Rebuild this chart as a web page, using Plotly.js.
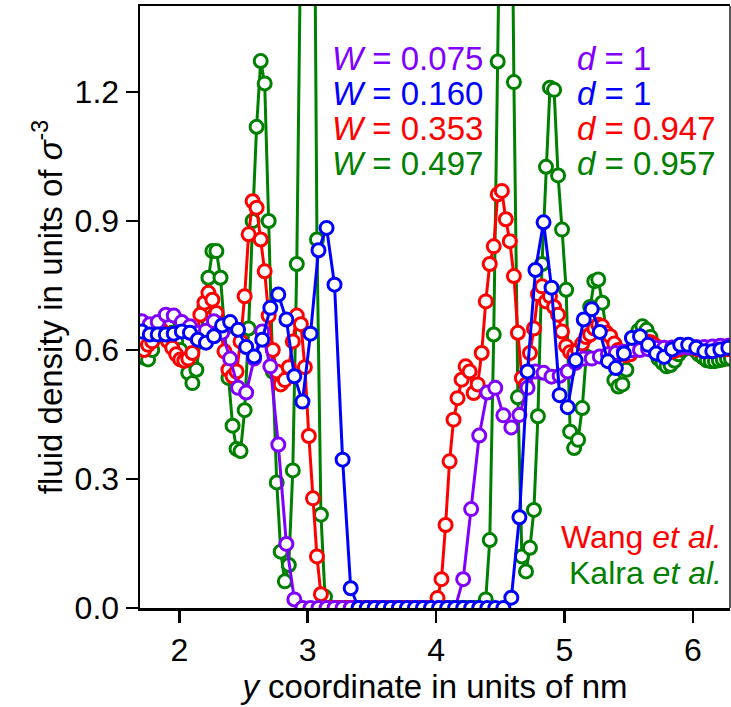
<!DOCTYPE html>
<html><head><meta charset="utf-8">
<script src="https://cdn.plot.ly/plotly-3.0.1.min.js"></script>
<style>html,body{margin:0;padding:0;background:#fff}#c{width:731px;height:707px}</style>
</head><body><div id="c"></div>
<script>
// coarse grid (this work, W=0.075 and W=0.160)
const xCoarse = [1.707,1.770,1.832,1.895,1.957,2.020,2.083,2.145,2.208,2.270,2.333,2.396,2.458,2.521,2.583,2.646,2.709,2.771,2.834,2.896,2.959,3.022,3.084,3.147,3.209,3.272,3.335,3.397,3.460,3.522,3.585,3.648,3.710,3.773,3.835,3.898,3.960,4.023,4.086,4.148,4.211,4.273,4.336,4.399,4.461,4.524,4.586,4.649,4.712,4.774,4.837,4.899,4.962,5.025,5.087,5.150,5.212,5.275,5.338,5.400,5.463,5.525,5.588,5.651,5.713,5.776,5.838,5.901,5.963,6.026,6.089,6.151,6.214,6.276];
const yPurple = [0.667,0.660,0.665,0.682,0.680,0.665,0.655,0.640,0.645,0.667,0.640,0.580,0.512,0.501,0.580,0.643,0.562,0.380,0.149,0.020,0,0,0,0,0,0,0,0,0,0,0,0,0,0,0,0,0,0,0,0,0.067,0.230,0.401,0.501,0.512,0.448,0.420,0.449,0.512,0.550,0.547,0.538,0.540,0.550,0.570,0.580,0.580,0.585,0.590,0.593,0.596,0.600,0.600,0.602,0.605,0.605,0.606,0.606,0.606,0.607,0.607,0.608,0.610,0.610];
const yBlue = [0.643,0.636,0.636,0.636,0.638,0.643,0.640,0.624,0.617,0.632,0.657,0.665,0.647,0.607,0.585,0.624,0.698,0.729,0.671,0.539,0.480,0.638,0.832,0.884,0.752,0.345,0.046,0,0,0,0,0,0,0,0,0,0,0,0,0,0,0,0,0,0,0,0.024,0.211,0.550,0.786,0.897,0.745,0.495,0.467,0.576,0.671,0.695,0.642,0.574,0.558,0.592,0.628,0.632,0.612,0.592,0.584,0.601,0.612,0.612,0.605,0.597,0.597,0.601,0.605];
// fine grid (Wang et al. and Kalra et al.)
const xFine = [1.726,1.757,1.789,1.820,1.851,1.883,1.914,1.945,1.976,2.008,2.039,2.070,2.102,2.133,2.164,2.196,2.227,2.258,2.289,2.321,2.352,2.383,2.415,2.446,2.477,2.509,2.540,2.571,2.602,2.634,2.665,2.696,2.728,2.759,2.790,2.822,2.853,2.884,2.915,2.947,2.978,3.009,3.041,3.072,3.103,3.135,3.166,3.197,3.228,3.260,3.291,3.322,3.354,3.385,3.416,3.448,3.479,3.510,3.541,3.573,3.604,3.635,3.667,3.698,3.729,3.761,3.792,3.823,3.854,3.886,3.917,3.948,3.980,4.011,4.042,4.074,4.105,4.136,4.167,4.199,4.230,4.261,4.293,4.324,4.355,4.387,4.418,4.449,4.480,4.512,4.543,4.574,4.606,4.637,4.668,4.700,4.731,4.762,4.793,4.825,4.856,4.887,4.919,4.950,4.981,5.013,5.044,5.075,5.106,5.138,5.169,5.200,5.232,5.263,5.294,5.326,5.357,5.388,5.419,5.451,5.482,5.513,5.545,5.576,5.607,5.639,5.670,5.701,5.732,5.764,5.795,5.826,5.858,5.889,5.920,5.952,5.983,6.014,6.045,6.077,6.108,6.139,6.171,6.202,6.233,6.265,6.296];
const yRed = [0.600,0.612,0.620,0.640,0.650,0.640,0.620,0.605,0.590,0.578,0.575,0.580,0.593,0.630,0.682,0.710,0.733,0.717,0.686,0.640,0.597,0.554,0.539,0.550,0.620,0.725,0.869,0.946,0.931,0.857,0.783,0.680,0.600,0.550,0.520,0.530,0.560,0.620,0.680,0.660,0.560,0.400,0.255,0.120,0.032,0,0,0,0,0,0,0,0,0,0,0,0,0,0,0,0,0,0,0,0,0,0,0,0,0,0,0,0,0.023,0.067,0.193,0.341,0.438,0.488,0.531,0.562,0.550,0.500,0.520,0.593,0.713,0.800,0.841,0.962,0.970,0.904,0.853,0.772,0.640,0.535,0.520,0.593,0.650,0.730,0.748,0.713,0.725,0.700,0.682,0.643,0.609,0.595,0.590,0.600,0.615,0.630,0.636,0.650,0.659,0.655,0.640,0.632,0.615,0.600,0.590,0.588,0.590,0.600,0.608,0.615,0.620,0.618,0.612,0.605,0.598,0.595,0.595,0.598,0.602,0.606,0.608,0.607,0.604,0.601,0.599,0.598,0.598,0.600,0.601,0.602,0.602,0.602];
const yGreen = [0.582,0.578,0.600,0.630,0.650,0.660,0.655,0.640,0.620,0.600,0.575,0.547,0.523,0.554,0.620,0.700,0.768,0.830,0.830,0.768,0.650,0.535,0.424,0.370,0.365,0.460,0.650,0.900,1.119,1.272,1.220,0.900,0.550,0.292,0.131,0.062,0.100,0.320,0.800,1.600,2.400,2.600,2.200,0.857,0.217,0.026,0,0,0,0,0,0,0,0,0,0,0,0,0,0,0,0,0,0,0,0,0,0,0,0,0,0,0,0,0,0,0,0,0,0,0,0,0,0,0,0.020,0.158,0.636,1.271,2.000,2.600,2.200,1.223,0.490,0.120,0.085,0.140,0.228,0.446,0.800,1.026,1.210,1.205,1.006,0.880,0.740,0.410,0.372,0.391,0.465,0.585,0.700,0.760,0.764,0.710,0.640,0.580,0.530,0.515,0.520,0.554,0.600,0.630,0.645,0.655,0.647,0.630,0.600,0.580,0.570,0.562,0.565,0.575,0.590,0.600,0.605,0.605,0.600,0.590,0.583,0.576,0.574,0.574,0.576,0.578,0.580,0.580];

const FONT = 'Liberation Sans, Arial, sans-serif';
function tr(x, y, color) {
  return {x: x, y: y, type: 'scatter', mode: 'lines+markers',
    line: {color: color, width: 3},
    marker: {symbol: 'circle', size: 13, color: '#ffffff', line: {color: color, width: 3}},
    hoverinfo: 'skip'};
}
const data = [
  tr(xFine, yGreen, '#008000'),
  tr(xFine, yRed, '#ff0000'),
  tr(xCoarse, yPurple, '#8000ff'),
  tr(xCoarse, yBlue, '#0000ff')
];
function ann(text, px, py, color, anchor, size) {
  return {text: text, xref: 'paper', yref: 'paper', x: (px - 140) / 590, y: (608 - py) / 602,
    xanchor: anchor || 'left', yanchor: 'middle', showarrow: false,
    font: {family: FONT, size: size || 33, color: color}};
}
const layout = {
  width: 731, height: 707,
  margin: {l: 140, r: 1, t: 6, b: 99},
  paper_bgcolor: '#fff', plot_bgcolor: '#fff',
  showlegend: false,
  font: {family: FONT, color: '#000'},
  xaxis: {range: [1.694, 6.289], showgrid: false, zeroline: false,
    showline: true, linecolor: '#000', linewidth: 2.5, mirror: true,
    ticks: 'outside', ticklen: 12, tickwidth: 2.5, tickcolor: '#000',
    tickvals: [2, 3, 4, 5, 6], tickfont: {family: FONT, size: 32},
    title: {text: '<i>y</i> coordinate in units of nm', font: {family: FONT, size: 33}, standoff: 6}},
  yaxis: {range: [0, 1.4], showgrid: false, zeroline: false,
    showline: true, linecolor: '#000', linewidth: 2.5,
    ticks: 'outside', ticklen: 12, tickwidth: 2.5, tickcolor: '#000',
    tickvals: [0, 0.3, 0.6, 0.9, 1.2], tickformat: '.1f', tickfont: {family: FONT, size: 32},
    title: {text: 'fluid density in units of <i>σ</i><sup>-3</sup>', font: {family: FONT, size: 33}, standoff: 2}},
  shapes: [{type: 'line', xref: 'paper', yref: 'paper', x0: 1, x1: 1, y0: 0, y1: 1, line: {color: '#222', width: 1.5}}],
  annotations: [
    ann('<i>W</i> = 0.075', 330, 58, '#8000ff'),
    ann('<i>W</i> = 0.160', 330, 93, '#0000ff'),
    ann('<i>W</i> = 0.353', 330, 128, '#ff0000'),
    ann('<i>W</i> = 0.497', 330, 163, '#008000'),
    ann('<i>d</i> = 1', 575, 58, '#8000ff'),
    ann('<i>d</i> = 1', 575, 93, '#0000ff'),
    ann('<i>d</i> = 0.947', 575, 128, '#ff0000'),
    ann('<i>d</i> = 0.957', 575, 163, '#008000'),
    ann('Wang <i>et al.</i>', 724, 537, '#ff0000', 'right', 32),
    ann('Kalra <i>et al.</i>', 724, 573, '#008000', 'right', 32)
  ]
};
Plotly.newPlot('c', data, layout, {staticPlot: true, displayModeBar: false});
</script></body></html>
